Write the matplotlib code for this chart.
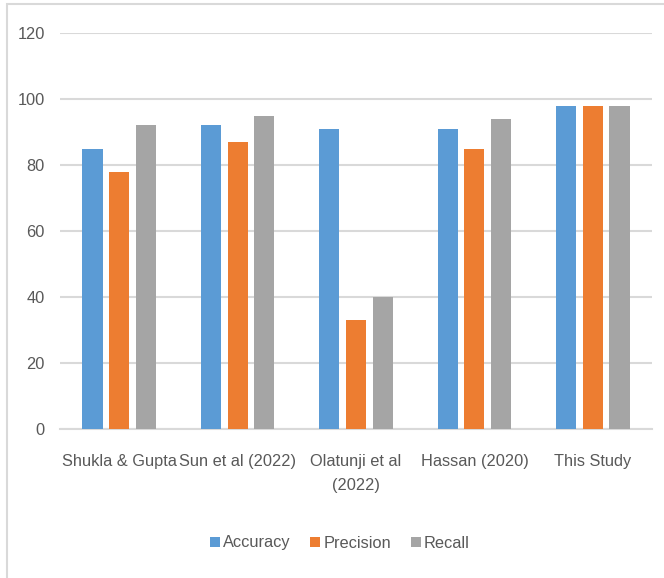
import matplotlib
matplotlib.use("Agg")
import matplotlib.pyplot as plt
import numpy as np
from matplotlib.patches import Rectangle

categories = ["Shukla & Gupta", "Sun et al (2022)", "Olatunji et al\n(2022)", "Hassan (2020)", "This Study"]
series_names = ["Accuracy", "Precision", "Recall"]
accuracy = [85, 92, 91, 91, 98]
precision = [78, 87, 33, 85, 98]
recall = [92, 95, 40, 94, 98]
yticks = [0, 20, 40, 60, 80, 100, 120]

colors = ["#5B9BD5", "#ED7D31", "#A5A5A5"]
plt.rcParams['font.family'] = ['Liberation Sans', 'DejaVu Sans']
FS = 11.8

fig = plt.figure(figsize=(6.64, 5.78), dpi=100)
ax = fig.add_axes([60/664, 1-429/578, 592/664, 396/578])

x = np.arange(len(categories))
w = 0.17
offs = [-0.225, 0, 0.225]
for vals, off, c, name in zip([accuracy, precision, recall], offs, colors, series_names):
    ax.bar(x + off, vals, width=w, color=c, label=name, zorder=3)

ax.set_xlim(-0.5, len(categories) - 0.5)
ax.set_ylim(0, 120)
ax.set_yticks(yticks)
ax.set_xticks(x)
ax.set_xticklabels(categories, fontsize=FS, color="#595959", linespacing=1.75)
ax.tick_params(axis='y', labelsize=FS, labelcolor="#595959", length=0, pad=11)
ax.tick_params(axis='x', length=0, pad=18)
ax.grid(axis='y', color="#d9d9d9", linewidth=1.5, zorder=0)
for s in ["top", "right", "left"]:
    ax.spines[s].set_visible(False)
ax.spines["bottom"].set_color("#d9d9d9")
ax.spines["bottom"].set_linewidth(1.5)

leg = fig.legend(loc="center", bbox_to_anchor=(340/664, 1-543/578), ncol=3, frameon=False,
                 fontsize=FS, handlelength=0.6, handleheight=0.6, handletextpad=0.2,
                 columnspacing=1.2)
for t in leg.get_texts():
    t.set_color("#595959")

fig.patches.append(Rectangle((7/664, -0.1), 1.2, 1 - 4/578 + 0.1, transform=fig.transFigure,
                             fill=False, edgecolor="#d9d9d9", linewidth=1.5))

fig.savefig("out.png", dpi=100, facecolor="white")
